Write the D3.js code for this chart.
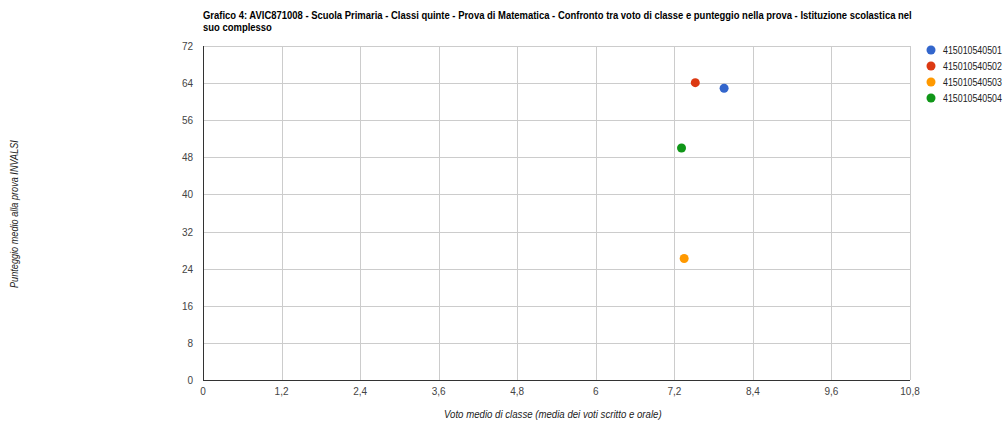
<!DOCTYPE html>
<html><head><meta charset="utf-8">
<script src="https://cdn.jsdelivr.net/npm/d3@7"></script>
<style>
html,body{margin:0;padding:0;background:#fff;}
svg{display:block;font-family:"Liberation Sans",Arial,sans-serif;}
</style></head>
<body>
<svg id="chart" width="1004" height="423"></svg>
<script>
const titleLines = ["Grafico 4: AVIC871008 - Scuola Primaria - Classi quinte - Prova di Matematica - Confronto tra voto di classe e punteggio nella prova - Istituzione scolastica nel", "suo complesso"];
const seriesNames = ["415010540501","415010540502","415010540503","415010540504"];
const xValues = [7.96, 7.52, 7.35, 7.31];
const yValues = [62.9, 64.1, 26.2, 50.0];
const seriesColors = ["#3366cc","#dc3912","#ff9900","#109618"];
const xTicks = [0,1.2,2.4,3.6,4.8,6,7.2,8.4,9.6,10.8];
const yTicks = [0,8,16,24,32,40,48,56,64,72];
const xTitle = "Voto medio di classe (media dei voti scritto e orale)";
const yTitle = "Punteggio medio alla prova INVALSI";

(function(){
const svg = d3.select("#chart");
const pL = 203, pR = 910, pT = 46, pB = 380;
const x = d3.scaleLinear().domain([0,10.8]).range([pL,pR]);
const y = d3.scaleLinear().domain([0,72]).range([pB,pT]);
const fmt = v => String(+v.toFixed(1)).replace(".", ",");

// place a text squeezed horizontally to a target width via a scale transform
function squeezed(parent, str, tx, ty, w, rot, attrs){
  const g = parent.append("g");
  const t = g.append("text").text(str);
  for (const k in attrs) t.attr(k, attrs[k]);
  const nat = t.node().getComputedTextLength();
  const s = Math.min(1, w / nat);
  g.attr("transform", `translate(${tx},${ty})` + (rot ? ` rotate(${rot})` : "") + ` scale(${s},1)`);
  return g;
}

svg.append("g").selectAll("line").data(yTicks.filter(d=>d>0)).join("line")
  .attr("x1",pL).attr("x2",pR).attr("y1",d=>Math.round(y(d))+0.5).attr("y2",d=>Math.round(y(d))+0.5)
  .attr("stroke","#cccccc").attr("stroke-width",1);
svg.append("g").selectAll("line").data(xTicks.filter(d=>d>0)).join("line")
  .attr("y1",pT).attr("y2",pB).attr("x1",d=>Math.round(x(d))+0.5).attr("x2",d=>Math.round(x(d))+0.5)
  .attr("stroke","#cccccc").attr("stroke-width",1);

svg.append("line").attr("x1",pL+0.5).attr("x2",pL+0.5).attr("y1",pT).attr("y2",pB).attr("stroke","#333");
svg.append("line").attr("x1",pL).attr("x2",pR).attr("y1",pB+0.5).attr("y2",pB+0.5).attr("stroke","#333");

svg.append("g").selectAll("text").data(yTicks).join("text")
  .attr("x",pL-10).attr("y",d=>y(d)+4).attr("text-anchor","end")
  .attr("font-size",10).attr("fill","#444").text(d=>fmt(d));
svg.append("g").selectAll("text").data(xTicks).join("text")
  .attr("x",d=>x(d)).attr("y",pB+15).attr("text-anchor","middle")
  .attr("font-size",10).attr("fill","#444").text(d=>fmt(d));

const axisAttrs = {"font-size":10,"font-style":"italic","fill":"#222"};
squeezed(svg, xTitle, 444, 418, 218, 0, axisAttrs);
squeezed(svg, yTitle, 18, 288, 148, -90, axisAttrs);

const titleW = [709, 69];
const titleAttrs = {"font-size":11,"font-weight":"bold","fill":"#000"};
titleLines.forEach((s,i)=>squeezed(svg, s, pL, 19+i*12, titleW[i], 0, titleAttrs));

svg.append("g").selectAll("circle").data(seriesNames).join("circle")
  .attr("cx",(d,i)=>x(xValues[i])).attr("cy",(d,i)=>y(yValues[i])).attr("r",4.5)
  .attr("fill",(d,i)=>seriesColors[i]);

const legendAttrs = {"font-size":10,"fill":"#222"};
seriesNames.forEach((name,i)=>{
  svg.append("circle").attr("cx",931).attr("cy",50+i*16).attr("r",4.5).attr("fill",seriesColors[i]);
  squeezed(svg, name, 943, 54+i*16, 59, 0, legendAttrs);
});
})();
</script>
</body></html>
